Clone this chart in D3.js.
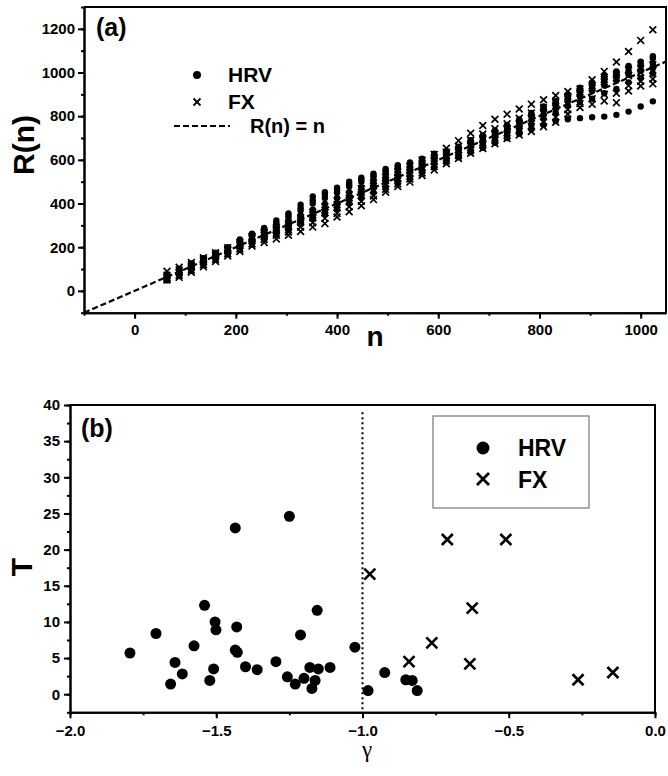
<!DOCTYPE html>
<html>
<head>
<meta charset="utf-8">
<script src="https://cdn.jsdelivr.net/npm/d3@7"></script>
<style>
  body { margin: 0; background: #fff; }
  text { font-family: "Liberation Sans", Arial, sans-serif; font-weight: bold; fill: #000; }
  .axis text { font-size: 15px; font-weight: bold; }
  .axis path, .axis line { stroke: #000; stroke-width: 2px; }
</style>
</head>
<body>
<script>
// panel (a): R(n) against n, one array per record
const nValues = [64, 88, 112, 136, 160, 184, 208, 232, 256, 280, 304, 328, 352, 376, 400, 424, 448, 472, 496, 520, 544, 568, 592, 616, 640, 664, 688, 712, 736, 760, 784, 808, 832, 856, 880, 904, 928, 952, 976, 1000, 1024];

const hrv1 = [75, 100, 125, 150, 175, 200, 235, 262, 288, 322, 355, 395, 432, 452, 472, 500, 518, 536, 558, 575, 588, 605, 628, 640, 660, 690, 712, 735, 760, 785, 815, 845, 870, 900, 930, 955, 985, 1005, 1030, 1050, 1075];
const hrv2 = [62, 90, 115, 142, 168, 193, 222, 250, 275, 305, 335, 368, 400, 425, 450, 478, 500, 520, 542, 562, 578, 595, 618, 632, 652, 678, 700, 722, 748, 770, 800, 828, 855, 885, 910, 935, 965, 985, 1008, 1028, 1040];
const hrv3 = [58, 82, 108, 132, 158, 184, 210, 236, 262, 290, 316, 345, 372, 398, 425, 452, 475, 498, 522, 545, 565, 585, 605, 622, 642, 665, 688, 708, 733, 755, 780, 808, 835, 868, 890, 915, 940, 965, 990, 1008, 1020];
const hrv4 = [52, 75, 100, 125, 150, 175, 198, 222, 248, 272, 298, 322, 348, 372, 398, 425, 450, 475, 500, 522, 545, 568, 590, 608, 628, 650, 672, 692, 715, 738, 760, 790, 815, 848, 865, 880, 905, 925, 955, 975, 995];
const hrv5 = [48, 68, 92, 118, 142, 168, 190, 212, 235, 258, 280, 305, 330, 352, 375, 400, 425, 450, 475, 500, 520, 545, 565, 590, 612, 635, 655, 678, 700, 720, 740, 760, 778, 786, 791, 795, 798, 806, 821, 844, 868];
const hrv6 = [68, 95, 120, 146, 172, 197, 228, 256, 282, 312, 345, 380, 415, 440, 462, 488, 510, 528, 550, 568, 582, 600, 622, 636, 656, 684, 706, 728, 754, 778, 808, 836, 862, 892, 918, 945, 972, 997, 1025, 1046, 1065];

const fx1 = [90, 108, 130, 152, 175, 198, 222, 250, 268, 290, 310, 335, 360, 385, 412, 440, 468, 495, 520, 545, 570, 598, 625, 653, 688, 722, 757, 786, 809, 833, 855, 875, 895, 913, 924, 967, 1005, 1048, 1096, 1147, 1196];
const fx2 = [50, 62, 85, 110, 135, 160, 180, 205, 222, 238, 255, 272, 292, 308, 338, 362, 390, 418, 452, 478, 498, 528, 554, 582, 606, 630, 652, 674, 698, 714, 730, 752, 772, 810, 840, 855, 870, 862, 915, 938, 948];
const fx3 = [55, 72, 95, 120, 145, 170, 192, 215, 235, 255, 270, 292, 312, 332, 355, 385, 410, 435, 465, 490, 512, 540, 570, 596, 620, 645, 668, 690, 712, 732, 752, 772, 795, 830, 858, 880, 900, 905, 940, 960, 970];
const fx4 = [62, 85, 110, 135, 160, 185, 210, 238, 255, 275, 292, 315, 335, 358, 382, 410, 438, 462, 490, 515, 540, 565, 592, 618, 645, 672, 698, 722, 745, 768, 792, 818, 845, 880, 905, 930, 958, 990, 1012, 1000, 1010];
const fx5 = [72, 95, 118, 142, 168, 190, 215, 245, 262, 282, 300, 325, 348, 370, 395, 425, 452, 480, 505, 530, 555, 582, 608, 635, 662, 690, 718, 742, 765, 790, 815, 838, 862, 890, 912, 940, 968, 975, 985, 1020, 1035];

const xTicksA = [0, 200, 400, 600, 800, 1000];
const yTicksA = [0, 200, 400, 600, 800, 1000, 1200];

// panel (b): T against gamma
const hrvGamma = [-1.795, -1.706, -1.656, -1.641, -1.616, -1.576, -1.540, -1.522, -1.509, -1.504, -1.501, -1.435, -1.430, -1.435, -1.428, -1.400, -1.360, -1.296, -1.250, -1.257, -1.230, -1.212, -1.200, -1.180, -1.173, -1.162, -1.155, -1.151, -1.111, -1.026, -0.981, -0.924, -0.852, -0.830, -0.813];
const hrvT = [5.7, 8.4, 1.4, 4.4, 2.8, 6.7, 12.3, 1.9, 3.5, 10.0, 8.9, 23.0, 9.3, 6.1, 5.8, 3.8, 3.4, 4.5, 24.6, 2.4, 1.4, 8.2, 2.2, 3.7, 0.8, 1.9, 11.6, 3.5, 3.7, 6.5, 0.5, 3.0, 2.0, 1.9, 0.5];
const fxGamma = [-0.975, -0.710, -0.510, -0.625, -0.763, -0.841, -0.633, -0.263, -0.144];
const fxT = [16.6, 21.4, 21.4, 11.9, 7.1, 4.5, 4.2, 2.0, 3.0];

const xTicksB = [-2.0, -1.5, -1.0, -0.5, 0.0];
const yTicksB = [0, 5, 10, 15, 20, 25, 30, 35, 40];


const svg = d3.select('body').append('svg')
  .attr('width', 668)
  .attr('height', 776);

const crossPath = s => `M${-s},${-s}L${s},${s}M${-s},${s}L${s},${-s}`;

// ---------- panel (a) ----------
const xA = d3.scaleLinear().domain([-100, 1050]).range([84, 666]);
const yA = d3.scaleLinear().domain([-100, 1300]).range([312.7, 7]);

const gA = svg.append('g');

gA.append('g')
  .attr('class', 'axis')
  .attr('transform', `translate(0,${yA(-100)})`)
  .call(d3.axisBottom(xA).tickValues(d3.range(-100, 1051, 100)).tickSize(3).tickSizeOuter(0).tickFormat(''));
gA.append('g')
  .attr('class', 'axis')
  .attr('transform', `translate(0,${yA(-100)})`)
  .call(d3.axisBottom(xA).tickValues(xTicksA).tickSize(6).tickPadding(6).tickSizeOuter(0).tickFormat(d3.format('d')));

gA.append('g')
  .attr('class', 'axis')
  .attr('transform', `translate(${xA(-100)},0)`)
  .call(d3.axisLeft(yA).tickValues(d3.range(-100, 1301, 100)).tickSize(3).tickSizeOuter(0).tickFormat(''));
gA.append('g')
  .attr('class', 'axis')
  .attr('transform', `translate(${xA(-100)},0)`)
  .call(d3.axisLeft(yA).tickValues(yTicksA).tickSize(6).tickPadding(3).tickSizeOuter(0).tickFormat(d3.format('d')));

// top and right frame
gA.append('path')
  .attr('d', `M${xA(-100)},${yA(1300)}H${xA(1050)}V${yA(-100)}`)
  .attr('fill', 'none').attr('stroke', '#000').attr('stroke-width', 2);

// R(n) = n
gA.append('line')
  .attr('x1', xA(-100)).attr('y1', yA(-100))
  .attr('x2', xA(1050)).attr('y2', yA(1050))
  .attr('stroke', '#000').attr('stroke-width', 2.2).attr('stroke-dasharray', '6,3');

const hrvPts = [];
[hrv1, hrv2, hrv3, hrv4, hrv5, hrv6].forEach(s => s.forEach((v, i) => hrvPts.push({ n: nValues[i], r: v })));
const fxPts = [];
[fx1, fx2, fx3, fx4, fx5].forEach(s => s.forEach((v, i) => fxPts.push({ n: nValues[i], r: v })));

gA.selectAll('.fxa')
  .data(fxPts)
  .enter()
  .append('path')
  .attr('class', 'fxa')
  .attr('transform', d => `translate(${xA(d.n)},${yA(d.r)})`)
  .attr('d', crossPath(3.4))
  .attr('stroke', '#000').attr('stroke-width', 1.7);

gA.selectAll('.hrva')
  .data(hrvPts)
  .enter()
  .append('circle')
  .attr('class', 'hrva')
  .attr('r', 3.2)
  .attr('cx', d => xA(d.n))
  .attr('cy', d => yA(d.r))
  .attr('fill', '#000');

// labels
gA.append('text').attr('x', 96).attr('y', 36).style('font-size', '25px').text('(a)');
gA.append('text')
  .attr('transform', 'translate(34,145) rotate(-90)')
  .attr('text-anchor', 'middle')
  .style('font-size', '30px')
  .text('R(n)');
gA.append('text').attr('x', 375).attr('y', 346).attr('text-anchor', 'middle').style('font-size', '28px').text('n');

// legend (a)
gA.append('circle').attr('cx', 197).attr('cy', 75).attr('r', 4).attr('fill', '#000');
gA.append('path').attr('transform', 'translate(197,102)').attr('d', crossPath(3.5)).attr('stroke', '#000').attr('stroke-width', 1.8);
gA.append('line').attr('x1', 174).attr('x2', 230).attr('y1', 126).attr('y2', 126)
  .attr('stroke', '#000').attr('stroke-width', 2.2).attr('stroke-dasharray', '6,3');
gA.append('text').attr('x', 228).attr('y', 82).style('font-size', '21px').text('HRV');
gA.append('text').attr('x', 228).attr('y', 109).style('font-size', '21px').text('FX');
gA.append('text').attr('x', 250).attr('y', 133).style('font-size', '20px').text('R(n) = n');

// ---------- panel (b) ----------
const xB = d3.scaleLinear().domain([-2, 0]).range([70, 655]);
const yB = d3.scaleLinear().domain([-2.5, 40]).range([712.3, 405]);

const gB = svg.append('g');

gB.append('g')
  .attr('class', 'axis')
  .attr('transform', `translate(0,${yB(-2.5)})`)
  .call(d3.axisBottom(xB).tickValues(d3.range(-2, 0.01, 0.25)).tickSize(3).tickSizeOuter(0).tickFormat(''));
gB.append('g')
  .attr('class', 'axis')
  .attr('transform', `translate(0,${yB(-2.5)})`)
  .call(d3.axisBottom(xB).tickValues(xTicksB).tickSize(6).tickPadding(7).tickSizeOuter(0).tickFormat(d3.format('.1f')));

gB.append('g')
  .attr('class', 'axis')
  .attr('transform', `translate(${xB(-2)},0)`)
  .call(d3.axisLeft(yB).tickValues(d3.range(-2.5, 40.1, 2.5)).tickSize(3).tickSizeOuter(0).tickFormat(''));
gB.append('g')
  .attr('class', 'axis')
  .attr('transform', `translate(${xB(-2)},0)`)
  .call(d3.axisLeft(yB).tickValues(yTicksB).tickSize(6).tickPadding(4).tickSizeOuter(0).tickFormat(d3.format('d')));

gB.append('path')
  .attr('d', `M${xB(-2)},${yB(40)}H${xB(0)}V${yB(-2.5)}`)
  .attr('fill', 'none').attr('stroke', '#000').attr('stroke-width', 2);

// gamma = -1 reference
gB.append('line')
  .attr('x1', xB(-1)).attr('x2', xB(-1))
  .attr('y1', yB(39)).attr('y2', yB(-2.5))
  .attr('stroke', '#000').attr('stroke-width', 2).attr('stroke-dasharray', '2,3');

gB.selectAll('.hrvb')
  .data(hrvGamma.map((g, i) => ({ g: g, t: hrvT[i] })))
  .enter()
  .append('circle')
  .attr('class', 'hrvb')
  .attr('r', 5.5)
  .attr('cx', d => xB(d.g))
  .attr('cy', d => yB(d.t))
  .attr('fill', '#000');

gB.selectAll('.fxb')
  .data(fxGamma.map((g, i) => ({ g: g, t: fxT[i] })))
  .enter()
  .append('path')
  .attr('class', 'fxb')
  .attr('transform', d => `translate(${xB(d.g)},${yB(d.t)})`)
  .attr('d', crossPath(5.5))
  .attr('stroke', '#000').attr('stroke-width', 2.6);

gB.append('text').attr('x', 81).attr('y', 437).style('font-size', '25px').text('(b)');
gB.append('text')
  .attr('transform', 'translate(32,567) rotate(-90)')
  .attr('text-anchor', 'middle')
  .style('font-size', '30px')
  .text('T');
gB.append('text').attr('x', 367).attr('y', 757).attr('text-anchor', 'middle')
  .style('font-family', '"Liberation Serif", "Times New Roman", serif')
  .style('font-weight', 'normal')
  .style('font-size', '23px')
  .text('γ');

// legend (b)
gB.append('rect').attr('x', 433).attr('y', 416).attr('width', 156).attr('height', 92)
  .attr('fill', 'none').attr('stroke', '#777').attr('stroke-width', 1.2);
gB.append('circle').attr('cx', 483).attr('cy', 448).attr('r', 6.5).attr('fill', '#000');
gB.append('path').attr('transform', 'translate(483,479)').attr('d', crossPath(6)).attr('stroke', '#000').attr('stroke-width', 2.8);
gB.append('text').attr('x', 518).attr('y', 456).style('font-size', '23px').text('HRV');
gB.append('text').attr('x', 518).attr('y', 488).style('font-size', '23px').text('FX');
</script>
</body>
</html>
